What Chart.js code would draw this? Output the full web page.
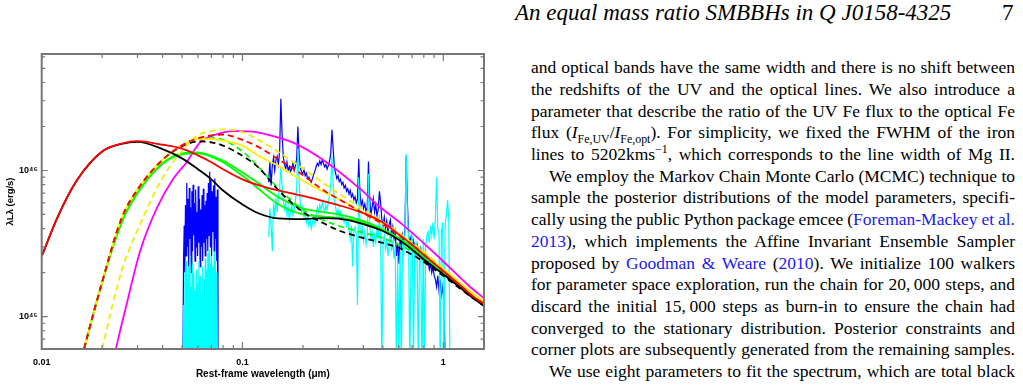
<!DOCTYPE html>
<html>
<head>
<meta charset="utf-8">
<script src="https://cdn.jsdelivr.net/npm/chart.js"></script>
<style>
html, body { margin: 0; padding: 0; background: #fff; width: 1023px; height: 390px; overflow: hidden; }
#plot { position: absolute; left: 0; top: 0; }
.hdr { position: absolute; top: -1px; font-family: "Liberation Serif"; font-style: italic; font-size: 23px; line-height: 28px; white-space: nowrap; }
.ln { position: absolute; font-family: "Liberation Serif"; font-size: 17.5px; line-height: 22px; white-space: nowrap; color: #000; }
.ref { color: #1a1aee; }
sub, sup { font-size: 68%; line-height: 0; }
</style>
</head>
<body>
<canvas id="plot" width="500" height="390"></canvas>
<div class="hdr" style="left:515px">An equal mass ratio SMBBHs in Q J0158-4325</div>
<div class="hdr" style="left:1002px;font-style:normal">7</div>
<div id="text"></div>
<script>
// 모델 곡선의 파장 격자 (µm) 와 λLλ 값 (단위 1e45 erg/s)
const lamGrid = [0.01, 0.012, 0.015, 0.02, 0.025, 0.03, 0.04, 0.05, 0.06, 0.07, 0.08, 0.1, 0.12, 0.15, 0.2, 0.25, 0.3, 0.4, 0.5, 0.6, 0.7, 0.8, 1.0, 1.2, 1.4, 1.6];
const redSolid    = [2.59, 4.8, 8.6, 13.5, 15.3, 15.9, 15.0, 14.1, 12.7, 11.4, 10.2, 8.7, 7.95, 7.3, 6.7, 6.2, 5.8, 5.1, 4.4, 3.65, 3.1, 2.65, 2.05, 1.66, 1.38, 1.22];
const blackSolid  = [2.59, 4.8, 8.6, 13.5, 15.2, 15.7, 14.0, 12.1, 10.2, 8.7, 7.3, 5.85, 5.1, 4.7, 4.65, 4.72, 4.68, 4.3, 3.85, 3.36, 2.87, 2.46, 1.95, 1.6, 1.35, 1.18];
const redDashed   = [0.02, 0.09, 0.38, 1.72, 4.7, 7.4, 11.8, 14.9, 16.6, 17.4, 17.6, 16.2, 14.5, 12.0, 9.3, 7.4, 6.4, 5.1, 4.3, 3.63, 3.1, 2.65, 2.05, 1.66, 1.38, 1.22];
const yellowSolid = [0.02, 0.09, 0.38, 1.72, 4.7, 7.4, 11.8, 14.9, 16.4, 16.4, 16.0, 14.8, 12.6, 10.8, 8.5, 7.2, 6.4, 5.1, 4.3, 3.67, 3.14, 2.73, 2.1, 1.71, 1.44, 1.26];
const yellowDashed = [0.005, 0.02, 0.1, 0.6, 2.05, 3.9, 8.9, 13.6, 17.4, 18.6, 19.1, 18.3, 16.2, 13.5, 10.3, 8.3, 7.0, 5.4, 4.45, 3.75, 3.2, 2.78, 2.13, 1.73, 1.45, 1.27];
const blackDashed = [0.02, 0.09, 0.38, 1.72, 4.7, 7.4, 11.8, 14.6, 15.8, 15.6, 14.8, 12.6, 10.5, 7.4, 5.2, 4.4, 3.9, 3.45, 3.2, 2.95, 2.65, 2.37, 1.9, 1.57, 1.34, 1.18];
const greenDashed = [0.02, 0.09, 0.38, 1.72, 4.7, 7.4, 11.8, 14.8, 16.2, 16.7, 16.2, 13.5, 10.6, 7.6, 5.4, 4.6, 4.2, 3.75, 3.45, 3.1, 2.8, 2.5, 1.98, 1.62, 1.37, 1.2];
const greenA      = [0.02, 0.09, 0.38, 1.72, 4.4, 7.0, 11.2, 13.1, 13.3, 12.6, 11.7, 9.7, 8.2, 6.6, 5.5, 5.2, 5.0, 4.5, 3.95, 3.45, 3.0, 2.6, 2.03, 1.65, 1.38, 1.22];
const greenB      = [0.02, 0.09, 0.38, 1.72, 4.4, 7.0, 11.1, 12.9, 13.1, 12.4, 11.4, 9.2, 7.5, 5.9, 5.0, 4.85, 4.75, 4.4, 3.9, 3.4, 2.97, 2.58, 2.02, 1.64, 1.37, 1.21];

// 자홍색 곡선은 별도의 파장 격자
const magentaLam = [0.02, 0.0236, 0.0265, 0.0309, 0.0374, 0.0452, 0.0527, 0.0614, 0.0744, 0.09, 0.109, 0.1315, 0.179, 0.262, 0.384, 0.482, 0.629, 0.92, 1.345, 1.6];
const magenta    = [0.22, 0.63, 1.22, 2.8, 5.5, 8.78, 11.4, 15.5, 17.7, 18.6, 18.5, 17.7, 15.5, 11.4, 7.51, 5.65, 4.24, 2.66, 1.62, 1.33];

// 관측 스펙트럼: 각 구간의 파장 범위 (로그 등간격 샘플링)
const uvRange = [0.0505, 0.0755];
const optRange = [0.135, 1.08];
const blueUV = [0.5, 2.5, 4.2, 2.0, 5.8, 2.6, 8.2, 3.0, 6.4, 2.2,
  7.6, 3.4, 5.6, 2.0, 7.2, 2.8, 8.0, 3.6, 6.0, 2.4,
  7.4, 3.0, 5.2, 2.6, 7.8, 3.2, 6.4, 2.2, 5.4, 3.0,
  6.8, 2.4, 7.5, 3.2, 5.8, 2.6, 6.2, 3.4, 7.0, 2.8,
  8.2, 3.6, 9.8, 3.0, 8.6, 2.6, 7.2, 3.8, 7.9, 2.8,
  8.8, 3.4, 6.6, 2.4, 7.4, 0.5];
const cyanUV = [0.4, 1.2, 0.4, 2.0, 0.5, 2.4, 0.6, 1.8, 0.4, 2.2,
  0.5, 2.6, 0.4, 1.6, 0.6, 2.3, 0.4, 2.0, 0.5, 1.5,
  0.4, 2.1, 0.6, 1.7, 0.4, 2.4, 0.5, 1.9, 0.4, 1.4,
  0.6, 2.2, 0.4, 1.8, 0.5, 2.5, 0.4, 2.1, 0.6, 2.7,
  0.4, 2.9, 0.5, 2.3, 0.4, 2.6, 0.6, 2.2, 0.4, 2.8,
  0.5, 2.4, 0.4, 2.0, 0.6, 0.4];
const blueOpt = [8.3, 11.5, 7.9, 10.8, 12.2, 10.0, 11.8, 12.5, 11.0, 13.5,
  31, 18, 12.5,
  11.0, 10.2, 11.4, 10.0, 10.6, 9.8, 10.4, 11.2, 10.0, 10.8, 12.0,
  20, 13, 10.5,
  9.8, 9.5, 10.2, 9.2, 9.6, 8.8, 9.0, 8.6, 8.3, 8.8, 9.4, 9.9, 10.6, 11.2, 10.8, 11.6, 11.0, 11.8,
  11.2, 10.6, 11.0, 10.2, 10.8, 11.6, 13.0,
  19.0, 14, 10.5,
  9.6, 8.8, 9.2, 8.4, 8.7, 8.0, 8.3, 7.6, 7.9, 7.2, 7.5, 6.9, 7.3, 6.6, 6.9, 6.3, 6.6, 6.0, 6.4,
  12.0, 7.0,
  5.8, 6.2, 5.5, 5.9, 5.2, 5.6,
  11.5, 6.5,
  5.0, 5.6, 6.4, 5.2, 5.8, 4.9, 5.4,
  7.2, 6.0,
  4.6, 4.2, 4.8, 4.0, 4.5, 3.8, 4.3, 4.6, 3.6, 4.1, 3.4, 3.8, 2.6, 3.2,
  2.3, 3.4, 3.0, 3.6, 3.2, 4.0,
  12.5, 6.0,
  3.6, 3.2, 3.5, 2.9, 3.3, 3.0, 2.7, 3.1, 2.8, 2.6, 2.9, 2.5, 2.7, 2.4, 2.6, 2.3,
  2.4, 2.1, 2.3, 2.0, 2.2, 1.9, 1.8, 1.6, 1.9, 1.5,
  1.7, 1.4, 1.6, 1.3, 0.5,
  null, null, null, null];
const cyanOpt = [3.5, 5.5, 4.2, 2.8, 6.0, 4.8, 6.5, 5.2, 6.8, 7.5,
  10.5, 8.0, 6.2,
  5.4, 6.0, 5.0, 5.6, 4.6, 5.2, 5.8, 4.9, 5.5, 6.2, 7.5,
  14.0, 8.5, 6.0,
  5.2, 5.6, 4.8, 5.1, 4.4, 4.8, 4.2, 4.6, 4.0, 4.4, 4.8, 4.3, 5.0, 5.6, 5.2, 5.8, 5.4, 6.0,
  5.6, 5.2, 5.8, 5.4, 6.0, 6.8, 8.0,
  12.5, 8.0, 6.2,
  5.6, 5.0, 5.4, 4.8, 5.2, 4.6, 4.9, 4.4, 4.8, 4.2, 4.6, 4.0, 3.4, 4.2, 2.2, 3.8, 4.1, 3.6, 1.2,
  9.0,
  4.0, 3.6, 4.2, 3.3, 3.8, 3.1, 3.6,
  9.5, 4.2,
  3.4, 3.8, 3.0, 3.6, 3.2, 4.0, 3.4, 5.0, 3.6,
  0.4, 3.2, 3.6, 2.9, 3.4, 2.6, 3.1, 3.8, 2.8, 3.3, 2.5, 3.0, 0.4, 2.6,
  0.5, 2.8, 0.4, 3.2, 2.6, 3.8,
  13.0, 5.0,
  3.4, 0.4, 3.0, 3.6, 0.5, 2.8, 3.2, 2.6, 0.4, 3.0, 2.7, 0.4, 3.4, 0.5, 3.0, 3.6,
  3.8, 3.2, 4.2, 3.6, 4.4, 3.4, 4.8, 9.0, 4.0, 3.6, 0.4, 3.8, 4.4, 0.4, 4.2, 5.0, 6.3, 4.6, 0.4];

// 축 눈금
const xMajor = [0.01, 0.1, 1];
const xLabels = ['0.01', '0.1', '1'];
const xMinor = [0.02, 0.03, 0.04, 0.05, 0.06, 0.07, 0.08, 0.09, 0.2, 0.3, 0.4, 0.5, 0.6, 0.7, 0.8, 0.9];
const yMajor = [1, 10];
const yLabels = ['10\u2074\u2075', '10\u2074\u2076'];
const yMinor = [0.7, 0.8, 0.9, 2, 3, 4, 5, 6, 7, 8, 9, 20, 30, 40, 50, 60];

// 본문 텍스트
const bodyLines = [
  { html: 'and optical bands have the same width and there is no shift between' },
  { html: 'the redshifts of the UV and the optical lines. We also introduce a' },
  { html: 'parameter that describe the ratio of the UV Fe flux to the optical Fe' },
  { html: 'flux (<i>I</i><sub>Fe,UV</sub>/<i>I</i><sub>Fe,opt</sub>). For simplicity, we fixed the FWHM of the iron' },
  { html: 'lines to 5202kms<sup>\u22121</sup>, which corresponds to the line width of Mg II.' },
  { html: 'We employ the Markov Chain Monte Carlo (MCMC) technique to', indent: true },
  { html: 'sample the posterior distributions of the model parameters, specifi-' },
  { html: 'cally using the public Python package emcee (<span class="ref">Foreman-Mackey et al.</span>' },
  { html: '<span class="ref">2013</span>), which implements the Affine Invariant Ensemble Sampler' },
  { html: 'proposed by <span class="ref">Goodman &amp; Weare</span> (<span class="ref">2010</span>). We initialize 100 walkers' },
  { html: 'for parameter space exploration, run the chain for 20,\u2009000 steps, and' },
  { html: 'discard the initial 15,\u2009000 steps as burn-in to ensure the chain had' },
  { html: 'converged to the stationary distribution. Posterior constraints and' },
  { html: 'corner plots are subsequently generated from the remaining samples.' },
  { html: 'We use eight parameters to fit the spectrum, which are total black', indent: true }
];

const textBox = document.getElementById('text');
const colLeft = 531, colRight = 1015;
bodyLines.forEach((line, i) => {
  const el = document.createElement('div');
  el.className = 'ln';
  const left = colLeft + (line.indent ? 18 : 0);
  el.style.left = left + 'px';
  el.style.top = (56.2 + 21.7 * i) + 'px';
  el.innerHTML = line.html;
  textBox.appendChild(el);
  // 양쪽 정렬: 단어 간격으로 열 너비를 맞춤
  const w = el.getBoundingClientRect().width;
  const n = (el.textContent.match(/ /g) || []).length;
  if (n) el.style.wordSpacing = ((colRight - left - w) / n) + 'px';
});

function pts(xs, ys) {
  return xs.map((x, i) => ({ x: x, y: ys[i] }));
}
function specPts(range, vals) {
  const n = vals.length;
  return vals.map((v, i) => ({ x: range[0] * Math.pow(range[1] / range[0], i / (n - 1)), y: v }));
}

function model(data, color, dashed) {
  return {
    data: data,
    borderColor: color,
    borderWidth: 1.8,
    borderDash: dashed ? [6, 4] : [],
    pointRadius: 0,
    fill: false,
    cubicInterpolationMode: 'monotone',
    clip: 0
  };
}
function spectrum(data, color) {
  return {
    data: data,
    borderColor: color,
    borderWidth: 1.2,
    pointRadius: 0,
    fill: false,
    tension: 0,
    spanGaps: false,
    clip: 0
  };
}

// 프레임과 안쪽 눈금 그리기
const frameTicks = {
  id: 'frameTicks',
  afterDraw(chart) {
    const { ctx, chartArea: a, scales: { x, y } } = chart;
    ctx.save();
    ctx.strokeStyle = '#777';
    ctx.lineWidth = 1.2;
    ctx.beginPath();
    const xt = (vals, len) => vals.forEach(v => {
      const px = x.getPixelForValue(v);
      ctx.moveTo(px, a.bottom); ctx.lineTo(px, a.bottom - len);
      ctx.moveTo(px, a.top); ctx.lineTo(px, a.top + len);
    });
    const yt = (vals, len) => vals.forEach(v => {
      const py = y.getPixelForValue(v);
      ctx.moveTo(a.left, py); ctx.lineTo(a.left + len, py);
      ctx.moveTo(a.right, py); ctx.lineTo(a.right - len, py);
    });
    xt(xMajor, 7); xt(xMinor, 4);
    yt(yMajor, 6); yt(yMinor, 3.5);
    ctx.stroke();
    ctx.lineWidth = 2;
    ctx.strokeRect(a.left, a.top, a.right - a.left, a.bottom - a.top);
    ctx.restore();
  }
};

Chart.defaults.font.family = '"Liberation Sans", "DejaVu Sans", sans-serif';

new Chart(document.getElementById('plot').getContext('2d'), {
  type: 'line',
  data: {
    datasets: [
      model(pts(lamGrid, redSolid), '#ff0000', false),
      model(pts(lamGrid, redDashed), '#ff0000', true),
      model(pts(lamGrid, blackSolid), '#000000', false),
      model(pts(lamGrid, yellowSolid), '#fff000', false),
      model(pts(lamGrid, yellowDashed), '#e8f000', true),
      model(pts(lamGrid, blackDashed), '#000000', true),
      model(pts(lamGrid, greenDashed), '#00ff00', true),
      model(pts(lamGrid, greenA), '#00ff00', false),
      model(pts(lamGrid, greenB), '#00ff00', false),
      model(pts(magentaLam, magenta), '#ff00ff', false),
      spectrum(specPts(uvRange, cyanUV), '#00ffff'),
      spectrum(specPts(optRange, cyanOpt), '#00ffff'),
      spectrum(specPts(uvRange, blueUV), '#0000ff'),
      spectrum(specPts(optRange, blueOpt), '#0000ff')
    ]
  },
  options: {
    responsive: false,
    animation: false,
    devicePixelRatio: 1,
    layout: { padding: { top: 54, right: 16, bottom: 0, left: 0 } },
    plugins: { legend: { display: false }, tooltip: { enabled: false } },
    scales: {
      x: {
        type: 'logarithmic',
        min: 0.01,
        max: 1.595,
        afterBuildTicks: s => { s.ticks = xMajor.map(v => ({ value: v })); },
        afterFit: s => { s.height = 41; },
        ticks: {
          callback: (v, i) => xLabels[i],
          font: { size: 9, weight: 'bold' },
          color: '#000',
          padding: 8.5,
          autoSkip: false,
          maxRotation: 0
        },
        grid: { display: false, drawTicks: false },
        border: { display: false },
        title: {
          display: true,
          text: 'Rest-frame wavelength (\u03bcm)',
          font: { size: 10, weight: 'bold' },
          color: '#000',
          padding: { top: 0, bottom: 10 }
        }
      },
      y: {
        type: 'logarithmic',
        min: 0.629,
        max: 62.7,
        afterBuildTicks: s => { s.ticks = yMajor.map(v => ({ value: v })); },
        afterFit: s => { s.width = 41.7; },
        ticks: {
          callback: (v, i) => yLabels[i],
          font: { size: 9, weight: 'bold' },
          color: '#000',
          padding: 4,
          autoSkip: false
        },
        grid: { display: false, drawTicks: false },
        border: { display: false },
        title: {
          display: true,
          text: '\u03bbL\u03bb (erg/s)',
          font: { size: 9.5, weight: 'bold' },
          color: '#000',
          padding: { top: 4.3, bottom: 0 }
        }
      }
    }
  },
  plugins: [frameTicks]
});
</script>
</body>
</html>
